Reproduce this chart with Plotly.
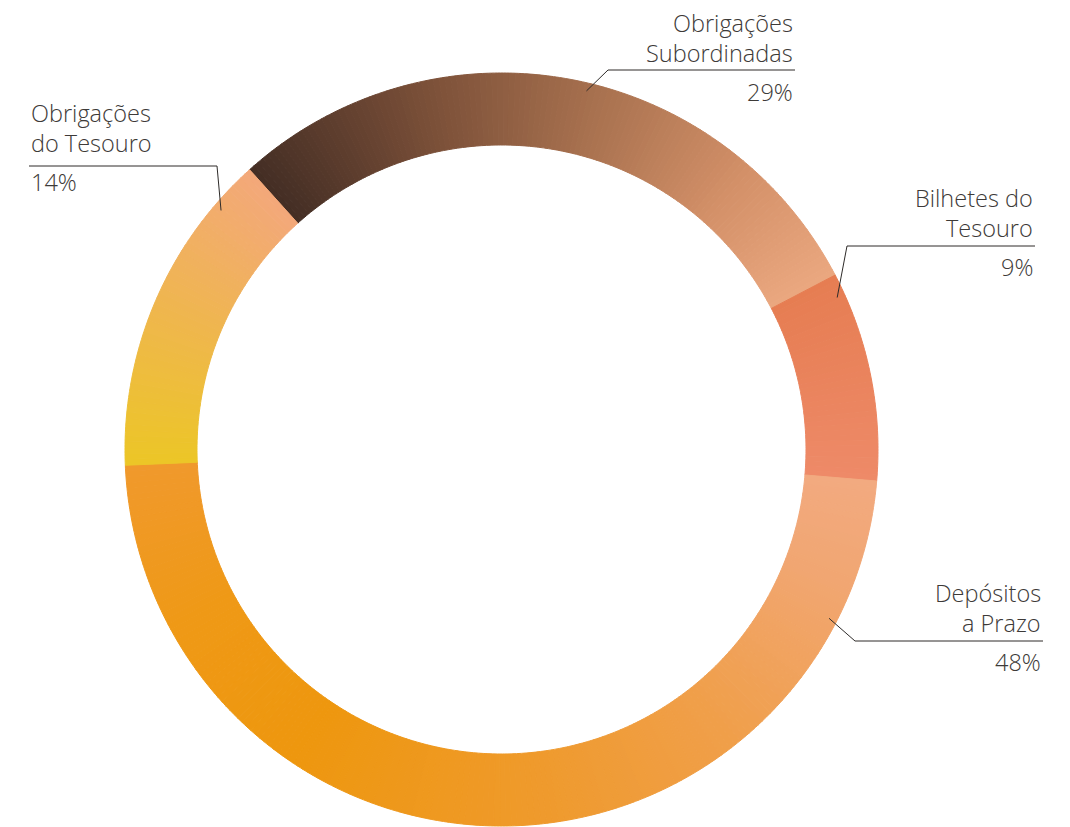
import math
import plotly.graph_objects as go

# Portfolio composition (% of total)
categories = ["Obrigações Subordinadas", "Bilhetes do Tesouro", "Depósitos a Prazo", "Obrigações do Tesouro"]
label_lines = [["Obrigações", "Subordinadas"], ["Bilhetes do", "Tesouro"], ["Depósitos", "a Prazo"], ["Obrigações", "do Tesouro"]]
values = [29, 9, 48, 14]

# Colour ramps along each segment (clockwise), as (position, hex) stops
ramps = [
    [(0.0, "#432d24"), (0.3, "#7d5139"), (0.55, "#a8714f"), (0.8, "#d39068"), (1.0, "#eaa880")],
    [(0.0, "#e67d52"), (1.0, "#ee8a68")],
    [(0.0, "#f2aa80"), (0.1, "#f1a671"), (0.27, "#f09f4a"), (0.46, "#ef9a2c"), (0.69, "#ee970e"), (0.85, "#ef9916"), (1.0, "#f0992c")],
    [(0.0, "#ecc626"), (0.5, "#efb64e"), (1.0, "#f3a87a")],
]

W, H = 1070, 827
CX, CY, R_OUT, R_IN = 501.5, 449.5, 376.5, 304.5
ROTATION = -42


def hex_rgb(h):
    h = h.lstrip("#")
    return [int(h[i:i + 2], 16) for i in (0, 2, 4)]


def ramp_color(stops, t):
    for (p0, c0), (p1, c1) in zip(stops, stops[1:]):
        if t <= p1:
            f = 0 if p1 == p0 else (t - p0) / (p1 - p0)
            a, b = hex_rgb(c0), hex_rgb(c1)
            return "rgb(%d,%d,%d)" % tuple(round(a[k] + (b[k] - a[k]) * f) for k in range(3))
    return stops[-1][1]


# Each segment is rendered as a run of thin wedges so that it carries a colour ramp
sub_vals, sub_cols, sub_ids, sub_hover = [], [], [], []
for name, v, stops in zip(categories, values, ramps):
    n = max(8, int(v * 4))
    for i in range(n):
        sub_vals.append(v / n)
        sub_cols.append(ramp_color(stops, (i + 0.5) / n))
        sub_ids.append(f"{name} · {i}")
        sub_hover.append(f"{name}: {v}%")

fig = go.Figure(go.Pie(
    labels=sub_ids,
    values=sub_vals,
    hole=R_IN / R_OUT,
    sort=False,
    direction="clockwise",
    rotation=ROTATION,
    textinfo="none",
    hovertext=sub_hover,
    hoverinfo="text",
    marker=dict(colors=sub_cols, line=dict(color=sub_cols, width=1)),
    showlegend=False,
    domain=dict(x=[(CX - R_OUT) / W, (CX + R_OUT) / W], y=[1 - (CY + R_OUT) / H, 1 - (CY - R_OUT) / H]),
))


def px(x):
    return x / W


def py(y):
    return 1 - y / H


# Angle (degrees clockwise from 12 o'clock) of a point inside each segment
total = sum(values)
starts = []
acc = ROTATION
for v in values:
    starts.append(acc)
    acc += v / total * 360
leader_frac = [0.53, 0.1, 0.13, 0.85]

# Label layout: text anchor x, alignment, first baseline y, elbow of leader, underline end
label_cfg = [
    dict(x=795, align="right", y0=31, under_y=70, under_x=(608, 795)),
    dict(x=1035, align="right", y0=206, under_y=246, under_x=(847, 1035)),
    dict(x=1043, align="right", y0=601, under_y=641, under_x=(855, 1043)),
    dict(x=29, align="left", y0=121, under_y=166, under_x=(29, 217)),
]

FONT = dict(family="Open Sans", size=23.5, color="#3d3a38", weight=300)
LINE_H = 30
annotations, shapes = [], []
for k, cfg in enumerate(label_cfg):
    lines = label_lines[k] + [f"{values[k]}%"]
    baselines = [cfg["y0"], cfg["y0"] + LINE_H, cfg["y0"] + 2 * LINE_H + 9]
    for text, base in zip(lines, baselines):
        annotations.append(dict(
            text=text, x=px(cfg["x"]), y=py(base - 8), xref="paper", yref="paper",
            xanchor=cfg["align"], yanchor="middle", showarrow=False, font=FONT,
        ))
    x0, x1 = cfg["under_x"]
    shapes.append(dict(type="line", xref="paper", yref="paper",
                       x0=px(x0), x1=px(x1), y0=py(cfg["under_y"]), y1=py(cfg["under_y"]),
                       line=dict(color="#2e2b29", width=1)))
    ang = math.radians(starts[k] + leader_frac[k] * values[k] / total * 360)
    r = R_OUT - 8
    ex, ey = CX + r * math.sin(ang), CY - r * math.cos(ang)
    elbow_x = x0 if cfg["align"] == "right" else x1
    shapes.append(dict(type="line", xref="paper", yref="paper",
                       x0=px(elbow_x), y0=py(cfg["under_y"]), x1=px(ex), y1=py(ey),
                       line=dict(color="#2e2b29", width=1)))

fig.update_layout(
    width=W, height=H,
    margin=dict(l=0, r=0, t=0, b=0),
    paper_bgcolor="white", plot_bgcolor="white",
    annotations=annotations, shapes=shapes,
)

fig.write_html("out.html")
